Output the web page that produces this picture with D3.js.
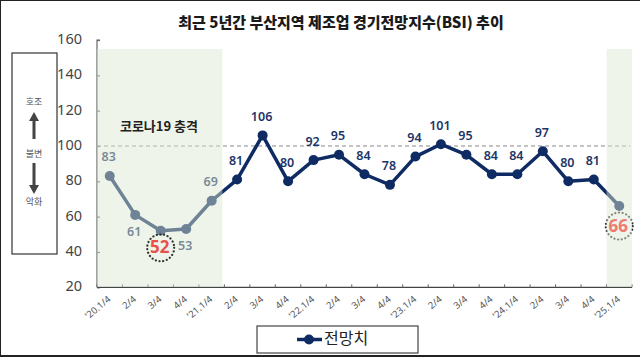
<!DOCTYPE html>
<html><head><meta charset="utf-8">
<script src="https://cdn.jsdelivr.net/npm/d3@7"></script>
<style>html,body{margin:0;padding:0;background:#fff;}svg{display:block;}</style>
</head><body>
<svg id="c" width="640" height="357"></svg>
<script>
const title = "최근 5년간 부산지역 제조업 경기전망지수(BSI) 추이";
const categories = ["'20.1/4","2/4","3/4","4/4","'21.1/4","2/4","3/4","4/4","'22.1/4","2/4","3/4","4/4","'23.1/4","2/4","3/4","4/4","'24.1/4","2/4","3/4","4/4","'25.1/4"];
const values = [83,61,52,53,69,81,106,80,92,95,84,78,94,101,95,84,84,97,80,81,66];
const yTicks = [20,40,60,80,100,120,140,160];
const seriesName = "전망치";
const shadeRanges = [[0,4],[20,20]];
const highlight = [2,20];
const labelSide = values.map((v,i)=> (i===1||i===3) ? "below" : "above");

const KR = "'Noto Sans CJK KR','Noto Sans',sans-serif";
const NAVY = "#0f2b63";
const svg = d3.select("#c");

const x = d3.scaleBand().domain(d3.range(values.length)).range([97,632]);
const y = d3.scaleLinear().domain([20,160]).range([287.3,40]);
const cx = i => x(i) + x.bandwidth()/2;

// frame
svg.append("line").attr("x1",0).attr("x2",640).attr("y1",0.5).attr("y2",0.5).attr("stroke","#222").attr("stroke-width",1);
svg.append("line").attr("x1",0.5).attr("x2",0.5).attr("y1",0).attr("y2",357).attr("stroke","#222").attr("stroke-width",1);
svg.append("line").attr("x1",0).attr("x2",640).attr("y1",356).attr("y2",356).attr("stroke","#222").attr("stroke-width",2);

// title
svg.append("text").attr("x",341).attr("y",28).attr("text-anchor","middle")
  .attr("font-family",KR).attr("font-size",15).attr("font-weight",800).attr("fill","#1a1a1a").text(title);

// left indicator box
const lb = svg.append("g");
lb.append("rect").attr("x",12).attr("y",53).attr("width",45).attr("height",201).attr("fill","none").attr("stroke","#333").attr("stroke-width",1.2);
[["호조",103],["불변",155],["악화",203]].forEach(([t,yy])=>{
  lb.append("text").attr("x",34).attr("y",yy).attr("text-anchor","middle").attr("dominant-baseline","middle")
    .attr("font-family",KR).attr("font-size",9).attr("fill","#555").text(t);
});
lb.append("rect").attr("x",32.5).attr("y",120).attr("width",3).attr("height",19).attr("fill","#444");
lb.append("path").attr("d","M34,112 L29,121 L39,121 Z").attr("fill","#444");
lb.append("rect").attr("x",32.5).attr("y",163).attr("width",3).attr("height",22).attr("fill","#444");
lb.append("path").attr("d","M34,194 L29,185 L39,185 Z").attr("fill","#444");

// y tick labels
svg.append("g").selectAll("text").data(yTicks).join("text")
  .attr("x",82).attr("y",d=>y(d)).attr("text-anchor","end").attr("dominant-baseline","middle")
  .attr("font-family","'Noto Sans',sans-serif").attr("font-size",14.5).attr("fill","#444").text(d=>d);

// axes
const yAxis = d3.axisRight(y).tickValues(yTicks).tickSize(3).tickFormat("");
const gy = svg.append("g").attr("transform","translate(97,0)").call(yAxis);
gy.selectAll("path,line").attr("stroke","#666").attr("stroke-width",1.2);
gy.select(".domain").attr("d",`M3,${y(160)}H0V${y(20)}`);

const xAxis = d3.axisTop(x).tickSize(3).tickFormat("");
const gx = svg.append("g").attr("transform",`translate(0,${y(20)})`).call(xAxis);
gx.select(".domain").attr("d",`M97,0H632`).attr("stroke","#444").attr("stroke-width",1.2);
gx.selectAll(".tick line").attr("transform",`translate(${-x.bandwidth()/2},0)`).attr("stroke","#666");
gx.append("line").attr("x1",632).attr("x2",632).attr("y1",0).attr("y2",-3).attr("stroke","#666");

// x labels
svg.append("g").selectAll("text").data(categories).join("text")
  .attr("transform",(d,i)=>`translate(${cx(i)},${y(20)+11}) rotate(-40)`)
  .attr("text-anchor","end").attr("dominant-baseline","middle")
  .attr("font-family","'Noto Sans',sans-serif").attr("font-size",9.5).attr("fill","#555").text(d=>d);

// reference line 100
svg.append("line").attr("x1",97).attr("x2",630).attr("y1",y(100)).attr("y2",y(100))
  .attr("stroke","#888").attr("stroke-width",1).attr("stroke-dasharray","4,3");

// series
const line = d3.line().x((d,i)=>cx(i)).y(d=>y(d));
svg.append("path").datum(values).attr("d",line).attr("fill","none").attr("stroke",NAVY).attr("stroke-width",3.5).attr("stroke-linejoin","round");
svg.append("g").selectAll("circle").data(values).join("circle")
  .attr("cx",(d,i)=>cx(i)).attr("cy",d=>y(d)).attr("r",5).attr("fill",NAVY);

// data labels (non-highlight)
svg.append("g").selectAll("text").data(values.map((v,i)=>({v,i})).filter(d=>!highlight.includes(d.i))).join("text")
  .attr("x",d=>cx(d.i)-1).attr("y",d=>y(d.v)+(labelSide[d.i]==="above"?-18:18))
  .attr("text-anchor","middle").attr("dominant-baseline","middle")
  .attr("font-family","'Noto Sans',sans-serif").attr("font-size",12.5).attr("font-weight",600).attr("fill","#1c3568").text(d=>d.v);

function hlCircle(i, dy){
  svg.append("circle").attr("cx",cx(i)).attr("cy",y(values[i])+dy).attr("r",13.5).attr("fill","none")
    .attr("stroke","#333").attr("stroke-width",2.2).attr("stroke-dasharray","0.1,3.6").attr("stroke-linecap","round");
}
function hlText(i, color, dy){
  svg.append("text").attr("x",cx(i)-1).attr("y",y(values[i])+dy+1).attr("text-anchor","middle").attr("dominant-baseline","middle")
    .attr("font-family","'Noto Sans',sans-serif").attr("font-size",17).attr("font-weight",700).attr("fill",color).text(values[i]);
}
hlCircle(20,20);

// shaded regions (overlay)
svg.append("g").selectAll("rect").data(shadeRanges).join("rect")
  .attr("x",d=>x(d[0])).attr("y",49).attr("width",d=>x(d[1])+x.bandwidth()-x(d[0])-(d[0]===0?2:0)).attr("height",y(20)-49-0.6)
  .attr("fill","rgb(218,231,208)").attr("fill-opacity",0.47);

hlText(20,"#ef7a70",20);
hlCircle(2,17);
hlText(2,"#e8524b",17);

svg.append("text").attr("x",159).attr("y",127).attr("text-anchor","middle").attr("dominant-baseline","middle")
  .attr("font-family",KR).attr("font-size",13).attr("font-weight",600).attr("fill","#222").text("코로나19 충격");

// legend
const lg = svg.append("g");
lg.append("rect").attr("x",257).attr("y",326).attr("width",161).attr("height",27).attr("fill","#fff").attr("stroke","#444").attr("stroke-width",1.2);
lg.append("line").attr("x1",297).attr("x2",322).attr("y1",339.5).attr("y2",339.5).attr("stroke",NAVY).attr("stroke-width",3.5);
lg.append("circle").attr("cx",309).attr("cy",339.5).attr("r",5).attr("fill",NAVY);
lg.append("text").attr("x",324).attr("y",340).attr("dominant-baseline","middle")
  .attr("font-family",KR).attr("font-size",16).attr("fill","#222").text(seriesName);
</script>
</body></html>
